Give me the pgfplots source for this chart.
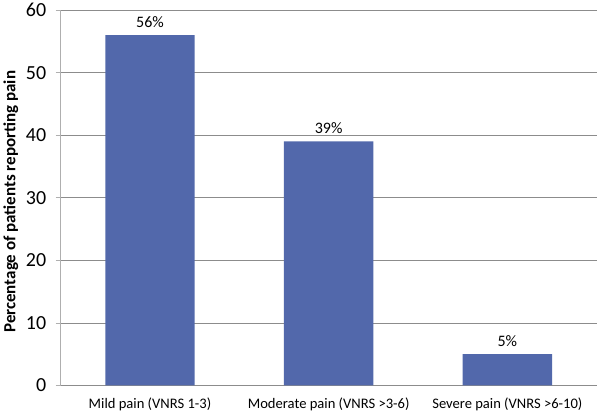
\documentclass[border=0pt]{standalone}
\usepackage{pgfplots}
\usepackage{fontspec}
\setmainfont{Carlito}
\pgfplotsset{compat=1.18}
\definecolor{barblue}{RGB}{82,104,171}
\definecolor{gridgray}{RGB}{140,140,140}
\definecolor{axisgray}{RGB}{175,175,175}

\begin{document}
\begin{tikzpicture}
\begin{axis}[
	scale only axis,
	width=537pt,
	height=376pt,
	xmin=0, xmax=3,
	ymin=0, ymax=60,
	ytick={0,10,...,60},
	xtick={0.5,1.5,2.5},
	xticklabels={Mild pain (VNRS 1-3),Moderate pain (VNRS >3-6),Severe pain (VNRS >6-10)},
	major x tick style={draw=none},
	extra x ticks={0,1,2,3},
	extra x tick labels={},
	extra x tick style={tick align=outside, major tick length=5pt, tick style={draw=axisgray, line width=0.8pt}},
	axis x line*=bottom,
	axis y line*=left,
	x axis line style={draw=gridgray, line width=0.8pt, -},
	y axis line style={draw=axisgray, line width=0.8pt, -},
	ymajorgrids=true,
	grid style={gridgray, line width=0.8pt},
	ytick style={draw=axisgray, line width=0.8pt},
	major y tick style={draw=axisgray},
	tick align=outside,
	major tick length=5pt,
	yticklabel style={font=\fontsize{20}{22}\selectfont, anchor=east, xshift=-6pt},
	xticklabel style={font=\fontsize{14.6}{16}\selectfont, anchor=north, yshift=-4pt},
	ylabel={Percentage of patients reporting pain},
	every axis y label/.style={at={(rel axis cs:0,0.5)}, xshift=-50pt, yshift=-4pt, rotate=90, anchor=center, font=\fontsize{17}{19}\selectfont\bfseries},
	/pgf/number format/assume math mode=true,
	nodes near coords={\pgfmathprintnumber{\pgfplotspointmeta}\%},
	every node near coord/.append style={font=\fontsize{16}{18}\selectfont, yshift=4pt},
	clip=false,
]
\addplot[ybar, bar width=0.5, fill=barblue, draw=none] coordinates {(0.5,56) (1.5,39) (2.5,5)};
\end{axis}
\end{tikzpicture}
\end{document}
